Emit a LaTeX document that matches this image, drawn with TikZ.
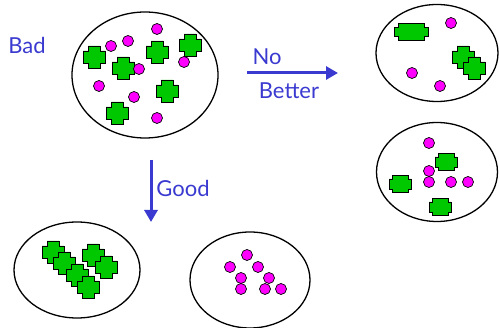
\documentclass[tikz,border=0pt]{standalone}
\usepackage{fontspec}
\setmainfont{Lato}
\usetikzlibrary{shapes.geometric,arrows.meta}
\definecolor{blobgreen}{RGB}{0,200,0}
\definecolor{dotpink}{RGB}{255,0,255}
\definecolor{labelblue}{RGB}{58,58,208}
\tikzset{
  pool/.style={ellipse,draw=black,line width=1.3pt,inner sep=0pt},
  lbl/.style={text=labelblue,font=\fontsize{22}{26}\selectfont,inner sep=0pt},
  move/.style={draw=labelblue,line width=3pt,-{Triangle[length=12pt,width=13pt]}},
  % blob: half-width, half-height, half-width of the upright bar, half-height of the crossbar
  pics/blob/.style n args={4}{code={
    \draw[fill=blobgreen,draw=black,line width=0.9pt,line join=miter]
      (-#1,-#4) -- (-#3,-#4) -- (-#3,-#2) -- (#3,-#2) -- (#3,-#4) -- (#1,-#4)
      -- (#1,#4) -- (#3,#4) -- (#3,#2) -- (-#3,#2) -- (-#3,#4) -- (-#1,#4) -- cycle;
  }},
  pics/plus/.style={code={\pic{blob={11}{11}{6}{6}};}},
  pics/chunk/.style={code={\pic{blob={11}{8.5}{8}{5}};}},
  pics/bar/.style={code={\pic{blob={17}{8.5}{13}{4.5}};}},
  pics/dot/.style={code={\draw[fill=dotpink,draw=black,line width=0.7pt] (0,0) circle (5.5);}},
}
\begin{document}
\begin{tikzpicture}[x=1pt,y=-1pt]
\useasboundingbox (0,0) rectangle (499,328);

% containers
\node[pool,minimum width=146pt,minimum height=126pt] (mix) at (145,75) {};
\node[pool,minimum width=122pt,minimum height=97pt] (same1) at (437,53) {};
\node[pool,minimum width=121pt,minimum height=99pt] (same2) at (437,172) {};
\node[pool,minimum width=126pt,minimum height=96pt] (greens) at (77,270) {};
\node[pool,minimum width=120pt,minimum height=96pt] (pinks) at (250,280) {};

% mixed contents
\foreach \p in {(94,57),(123,68),(157,52),(190,45),(167,91),(117,113)}
  \pic at \p {plus};
\foreach \p in {(157,29),(128,41),(111,46),(139,69),(184,62),(99,86),(134,97),(157,118)}
  \pic at \p {dot};

% first alternative
\pic at (411,32) {bar};
\pic at (463,57) {plus};
\pic at (474,68) {plus};
\foreach \p in {(451,23),(412,73),(440,86)}
  \pic at \p {dot};

% second alternative
\foreach \p in {(429,143),(429,171),(429,182),(451,182),(468,182)}
  \pic at \p {dot};
\pic at (446,162) {chunk};
\pic at (400,184) {chunk};
\pic at (440,207) {chunk};

% separated: greens
\foreach \p in {(53,252),(64,263),(77,275),(88,287),(93,255),(106,267)}
  \pic at \p {plus};

% separated: pinks
\foreach \p in {(247,255),(230,267),(258,267),(241,278),(269,278),(241,289),(265,289),(281,289)}
  \pic at \p {dot};

% labels and arrows
\node[lbl] (bad) at (27,45) {Bad};
\coordinate (noA) at (247,73);
\coordinate (noB) at (338,73);
\draw[move] (noA) -- (noB);
\node[lbl] (no) at (267,57) {No};
\node[lbl] (better) at (289,91) {Better};
\coordinate (gdA) at (151,160);
\coordinate (gdB) at (151,222);
\draw[move] (gdA) -- (gdB);
\node[lbl] (good) at (183,188) {Good};
\end{tikzpicture}
\end{document}
